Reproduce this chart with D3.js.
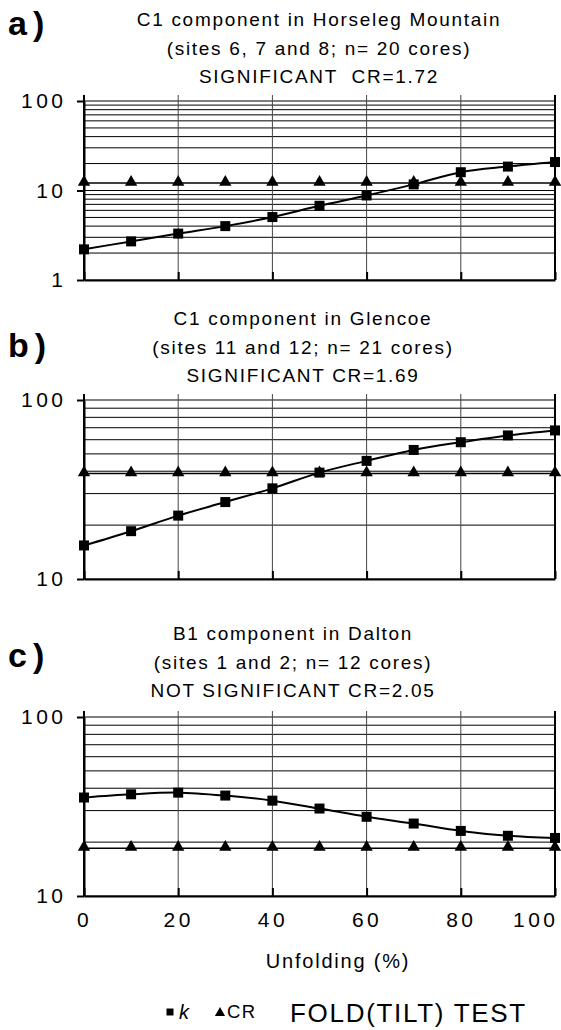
<!DOCTYPE html>
<html>
<head>
<meta charset="utf-8">
<style>
  body { margin: 0; background: #fff; }
  svg text { font-family: "Liberation Sans", Arial, Helvetica, sans-serif; fill: #000; white-space: pre; }
</style>
</head>
<body>
<div id="chart"></div>
<script src="https://d3js.org/d3.v7.min.js"></script>
<script>
// unfolding steps (%) and the labelled ones
var unfolding = [0, 10, 20, 30, 40, 50, 60, 70, 80, 90, 100];
var xTicks = [0, 20, 40, 60, 80, 100];

// a) Horseleg Mountain
var titlesA = ["C1 component in Horseleg Mountain", "(sites 6, 7 and 8; n= 20 cores)", "SIGNIFICANT  CR=1.72"];
var kA  = [2.2, 2.7, 3.3, 4.0, 5.05, 6.75, 8.8, 11.7, 16.0, 18.5, 20.8];
var crA = [12.1, 12.1, 12.1, 12.1, 12.1, 12.1, 12.1, 12.1, 12.1, 12.1, 12.1];
var yTicksA = [1, 10, 100];

// b) Glencoe
var titlesB = ["C1 component in Glencoe", "(sites 11 and 12; n= 21 cores)", "SIGNIFICANT CR=1.69"];
var kB  = [15.4, 18.5, 22.6, 26.9, 32.1, 39.3, 45.7, 52.6, 58.1, 63.4, 67.6];
var crB = [38.8, 38.8, 38.8, 38.8, 38.8, 38.8, 38.8, 38.8, 38.8, 38.8, 38.8];
var yTicksB = [10, 100];

// c) Dalton
var titlesC = ["B1 component in Dalton", "(sites 1 and 2; n= 12 cores)", "NOT SIGNIFICANT CR=2.05"];
var kC  = [35.5, 37.0, 37.8, 36.4, 34.1, 30.8, 27.7, 25.4, 23.1, 21.7, 21.1];
var crC = [18.5, 18.5, 18.5, 18.5, 18.5, 18.5, 18.5, 18.5, 18.5, 18.5, 18.5];
var yTicksC = [10, 100];

var panels = [
  {letter: "a)", letterY: 35,  titles: titlesA, titleX: 318, titleY: 26,  k: kA, cr: crA, yTicks: yTicksA, domain: [1, 100],  top: 101, bottom: 280, xLabels: false},
  {letter: "b)", letterY: 357, titles: titlesB, titleX: 302, titleY: 325, k: kB, cr: crB, yTicks: yTicksB, domain: [10, 100], top: 400, bottom: 579, xLabels: false},
  {letter: "c)", letterY: 667, titles: titlesC, titleX: 292, titleY: 640, k: kC, cr: crC, yTicks: yTicksC, domain: [10, 100], top: 717, bottom: 896, xLabels: true}
];

var svg = d3.select("#chart").append("svg")
    .attr("width", 561)
    .attr("height", 1030);

var x = d3.scaleLinear().domain([0, 100]).range([84, 555]);

var square = d3.symbol().type(d3.symbolSquare).size(100);
var triangle = d3.symbol().type(d3.symbolTriangle).size(66);

panels.forEach(function(p) {
  var y = d3.scaleLog().domain(p.domain).range([p.bottom, p.top]);
  var g = svg.append("g");

  // panel letter + title
  g.append("text")
      .attr("x", 8)
      .attr("y", p.letterY)
      .style("font-size", "34px")
      .style("font-weight", "bold")
      .style("letter-spacing", "6px")
      .text(p.letter);

  g.selectAll(".title")
    .data(p.titles)
    .enter().append("text")
      .attr("class", "title")
      .attr("x", p.titleX + 1)
      .attr("y", function(d, i) { return p.titleY + i * 28.5; })
      .attr("text-anchor", "middle")
      .style("font-size", "19px")
      .style("letter-spacing", "1.7px")
      .text(function(d) { return d; });

  // horizontal grid on every log tick
  g.selectAll(".hgrid")
    .data(y.ticks())
    .enter().append("line")
      .attr("x1", x(0))
      .attr("x2", x(100))
      .attr("y1", function(d) { return y(d); })
      .attr("y2", function(d) { return y(d); })
      .attr("stroke", "#000")
      .attr("stroke-width", 1);

  // vertical grid
  g.selectAll(".vgrid")
    .data(xTicks)
    .enter().append("line")
      .attr("x1", function(d) { return x(d); })
      .attr("x2", function(d) { return x(d); })
      .attr("y1", p.top - 6)
      .attr("y2", p.bottom)
      .attr("stroke", function(d) { return d === 0 || d === 100 ? "#000" : "#444"; })
      .attr("stroke-width", function(d) { return d === 0 || d === 100 ? 2 : 1; });

  var yAxis = g.append("g")
      .attr("transform", "translate(" + x(0) + ",0)")
      .call(d3.axisLeft(y).tickValues(p.yTicks).tickFormat(d3.format("d"))
        .tickSizeInner(7).tickSizeOuter(0).tickPadding(10.5));
  yAxis.selectAll("text").style("font-size", "21px").style("letter-spacing", "3.5px");
  yAxis.selectAll("line").attr("stroke-width", 2);
  yAxis.select(".domain").attr("stroke-width", 2);

  var xAxis = g.append("g")
      .attr("transform", "translate(0," + p.bottom + ")")
      .call(d3.axisBottom(x).tickValues(xTicks)
        .tickFormat(p.xLabels ? d3.format("d") : function() { return ""; })
        .tickSizeInner(-8).tickSizeOuter(0).tickPadding(16));
  xAxis.selectAll("text").style("font-size", "21px").style("letter-spacing", "3.5px");
  xAxis.selectAll("text").filter(function(d) { return d === 100; })
      .attr("text-anchor", "end")
      .attr("x", 3);
  xAxis.selectAll("line").attr("stroke-width", 2);
  xAxis.select(".domain").attr("stroke-width", 2);

  // CR line + triangles
  var line = d3.line()
      .x(function(d, i) { return x(unfolding[i]); })
      .y(function(d) { return y(d); });

  g.append("path")
      .datum(p.cr)
      .attr("fill", "none")
      .attr("stroke", "#000")
      .attr("stroke-width", 1.5)
      .attr("d", line);

  g.selectAll(".tri")
    .data(p.cr)
    .enter().append("path")
      .attr("class", "tri")
      .attr("transform", function(d, i) { return "translate(" + x(unfolding[i]) + "," + (y(d) - 1) + ")"; })
      .attr("d", triangle);

  // k line (smoothed) + squares
  g.append("path")
      .datum(p.k)
      .attr("fill", "none")
      .attr("stroke", "#000")
      .attr("stroke-width", 2)
      .attr("d", line.curve(d3.curveCatmullRom.alpha(0.5)));

  g.selectAll(".sq")
    .data(p.k)
    .enter().append("path")
      .attr("class", "sq")
      .attr("transform", function(d, i) { return "translate(" + x(unfolding[i]) + "," + y(d) + ")"; })
      .attr("d", square);
});

svg.append("text")
    .attr("x", 338)
    .attr("y", 968)
    .attr("text-anchor", "middle")
    .style("font-size", "20px")
    .style("letter-spacing", "1.8px")
    .text("Unfolding (%)");

// legend
var legend = svg.append("g");
legend.append("path")
    .attr("transform", "translate(170,1012)")
    .attr("d", d3.symbol().type(d3.symbolSquare).size(49));
legend.append("text")
    .attr("x", 179)
    .attr("y", 1019)
    .style("font-size", "20px")
    .style("font-style", "italic")
    .text("k");
legend.append("path")
    .attr("transform", "translate(220,1013)")
    .attr("d", d3.symbol().type(d3.symbolTriangle).size(45));
legend.append("text")
    .attr("x", 227)
    .attr("y", 1018)
    .style("font-size", "18.5px")
    .style("letter-spacing", "1.5px")
    .text("CR");
legend.append("text")
    .attr("x", 290)
    .attr("y", 1022)
    .style("font-size", "26px")
    .style("letter-spacing", "1.7px")
    .text("FOLD(TILT) TEST");
</script>
</body>
</html>
